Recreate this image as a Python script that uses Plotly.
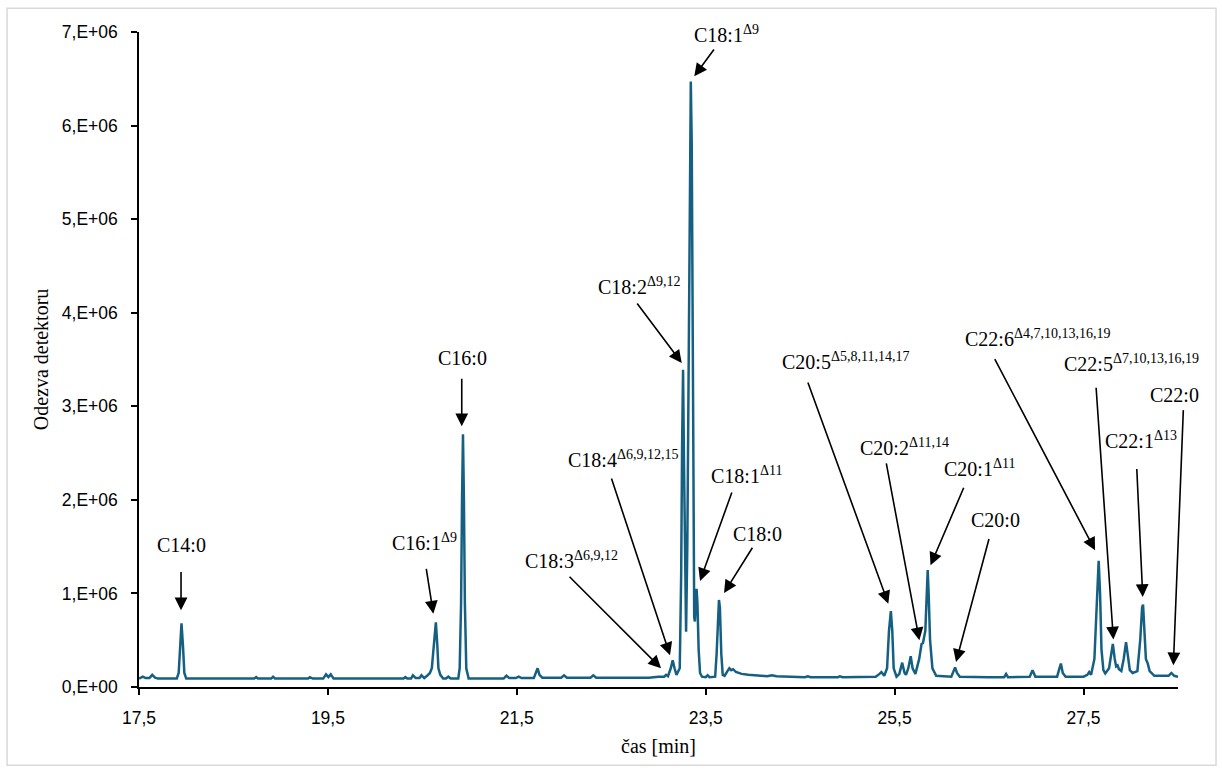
import numpy as np
import plotly.graph_objects as go

# ---------------- data ----------------
time_min = [
    17.50, 17.54, 17.57, 17.61, 17.64, 17.67, 17.70, 17.90, 17.92, 17.935, 17.95, 17.965, 17.98, 18.00,
    18.72, 18.74, 18.76, 18.90, 18.92, 18.94, 19.29, 19.31, 19.34,
    19.45, 19.48, 19.505, 19.53, 19.56, 20.30, 20.32, 20.34,
    20.38, 20.40, 20.43, 20.47, 20.49, 20.52, 20.55, 20.58, 20.60, 20.62, 20.643, 20.658, 20.67, 20.69, 20.72,
    20.75, 20.775, 20.80, 20.88, 20.895, 20.91, 20.92, 20.93, 20.94, 20.95, 20.965, 20.99,
    21.36, 21.39, 21.42, 21.49, 21.52, 21.55, 21.68, 21.705, 21.72, 21.74, 21.77, 21.85,
    21.97, 22.00, 22.03, 22.28, 22.31, 22.34, 22.90, 23.00, 23.06, 23.08, 23.10, 23.13, 23.15, 23.17, 23.19,
    23.225, 23.24, 23.25, 23.26, 23.27, 23.282, 23.292, 23.305, 23.32, 23.333, 23.342, 23.352, 23.365,
    23.378, 23.385, 23.395, 23.403, 23.412, 23.425, 23.44, 23.46, 23.50, 23.52, 23.54,
    23.60, 23.615, 23.63, 23.64, 23.65, 23.665, 23.68, 23.70, 23.73, 23.75, 23.77, 23.79, 23.82, 23.88,
    23.95, 24.05, 24.15, 24.20, 24.25, 24.40, 24.55, 24.58, 24.61, 24.90, 24.92, 24.95,
    25.30, 25.34, 25.36, 25.39, 25.42, 25.44, 25.46, 25.475, 25.49, 25.52, 25.55, 25.58, 25.605, 25.62,
    25.645, 25.67, 25.69, 25.72, 25.76, 25.785, 25.80, 25.825, 25.84, 25.85, 25.86, 25.875, 25.90, 25.94,
    26.10, 26.125, 26.14, 26.16, 26.19, 26.50, 26.66, 26.68, 26.70, 26.93, 26.96, 26.99,
    27.22, 27.245, 27.26, 27.28, 27.31, 27.50, 27.54, 27.56, 27.58, 27.615, 27.64, 27.66, 27.675, 27.69,
    27.71, 27.73, 27.77, 27.795, 27.81, 27.83, 27.845, 27.86, 27.875, 27.90, 27.925, 27.95, 27.97, 27.99,
    28.02, 28.07, 28.10, 28.12, 28.13, 28.145, 28.16, 28.18, 28.20, 28.25, 28.35, 28.40, 28.43, 28.46, 28.50,
]
# detector response in millions of counts
signal_millions = [
    0.09, 0.11, 0.095, 0.095, 0.13, 0.10, 0.09, 0.09, 0.15, 0.45, 0.68, 0.45, 0.15, 0.09,
    0.09, 0.105, 0.09, 0.09, 0.11, 0.09, 0.09, 0.105, 0.09,
    0.09, 0.135, 0.105, 0.135, 0.09, 0.09, 0.105, 0.09,
    0.09, 0.125, 0.095, 0.095, 0.125, 0.095, 0.12, 0.15, 0.20, 0.45, 0.69, 0.45, 0.20, 0.13, 0.09,
    0.09, 0.11, 0.09, 0.09, 0.20, 0.90, 2.00, 2.70, 2.00, 0.90, 0.20, 0.09,
    0.09, 0.12, 0.095, 0.095, 0.11, 0.095, 0.095, 0.15, 0.20, 0.13, 0.10, 0.10,
    0.10, 0.125, 0.10, 0.10, 0.125, 0.10, 0.10, 0.11, 0.11, 0.13, 0.115, 0.20, 0.285, 0.20, 0.13,
    0.20, 1.20, 2.60, 3.39, 2.40, 1.00, 0.59, 1.50, 4.00, 6.10, 6.47, 5.80, 2.50,
    0.75, 0.70, 0.95, 1.05, 0.90, 0.40, 0.15, 0.11, 0.105, 0.125, 0.105,
    0.11, 0.35, 0.85, 0.93, 0.85, 0.35, 0.13, 0.12, 0.17, 0.20, 0.18, 0.19, 0.16, 0.14,
    0.13, 0.12, 0.115, 0.125, 0.115, 0.11, 0.105, 0.115, 0.105, 0.105, 0.115, 0.105,
    0.11, 0.14, 0.16, 0.12, 0.20, 0.60, 0.81, 0.60, 0.20, 0.11, 0.14, 0.26, 0.15, 0.13,
    0.20, 0.33, 0.20, 0.14, 0.30, 0.46, 0.47, 0.60, 1.10, 1.25, 1.00, 0.50, 0.20, 0.12,
    0.11, 0.17, 0.21, 0.15, 0.11, 0.105, 0.105, 0.14, 0.105, 0.11, 0.18, 0.11,
    0.11, 0.20, 0.25, 0.15, 0.11, 0.11, 0.13, 0.16, 0.13, 0.30, 1.00, 1.35, 1.00, 0.40,
    0.18, 0.145, 0.20, 0.40, 0.46, 0.30, 0.22, 0.23, 0.19, 0.17, 0.30, 0.48, 0.32, 0.18,
    0.15, 0.17, 0.50, 0.85, 0.88, 0.60, 0.30, 0.25, 0.17, 0.12, 0.115, 0.12, 0.15, 0.12, 0.11,
]

x_tick_values = [17.5, 19.5, 21.5, 23.5, 25.5, 27.5]
x_tick_labels = ["17,5", "19,5", "21,5", "23,5", "25,5", "27,5"]
y_tick_values = [0, 1e6, 2e6, 3e6, 4e6, 5e6, 6e6, 7e6]
y_tick_labels = ["0,E+00", "1,E+06", "2,E+06", "3,E+06", "4,E+06", "5,E+06", "6,E+06", "7,E+06"]

peak_labels = [
    "C14:0", "C16:1<sup>Δ9</sup>", "C16:0", "C18:3<sup>Δ6,9,12</sup>", "C18:4<sup>Δ6,9,12,15</sup>",
    "C18:2<sup>Δ9,12</sup>", "C18:1<sup>Δ9</sup>", "C18:1<sup>Δ11</sup>", "C18:0",
    "C20:5<sup>Δ5,8,11,14,17</sup>", "C20:2<sup>Δ11,14</sup>", "C20:1<sup>Δ11</sup>", "C20:0",
    "C22:6<sup>Δ4,7,10,13,16,19</sup>", "C22:5<sup>Δ7,10,13,16,19</sup>", "C22:1<sup>Δ13</sup>", "C22:0",
]

# ---------------- annotation placement (data coords: x in min, y in millions) ----------------
label_xy = [
    (17.95, 1.52), (20.52, 1.55), (20.92, 3.52), (22.08, 1.36), (22.62, 2.44),
    (22.79, 4.29), (23.725, 6.98), (23.93, 2.27), (24.05, 1.64),
    (24.98, 3.48), (25.60, 2.57), (26.40, 2.34), (26.57, 1.78),
    (27.01, 3.73), (28.01, 3.46), (28.11, 2.64), (28.46, 3.12),
]
arrow_tail = [
    (17.945, 1.244), (20.539, 1.279), (20.917, 3.31), (22.042, 1.194), (22.497, 2.244),
    (22.762, 4.115), (23.599, 6.829), (23.782, 2.095), (24.004, 1.504),
    (24.576, 3.27), (25.409, 2.405), (26.238, 2.145), (26.503, 1.597),
    (26.552, 3.52), (27.632, 3.214), (28.063, 2.345), (28.557, 2.975),
]
arrow_tip = [
    (17.945, 0.82), (20.616, 0.784), (20.917, 2.786), (23.027, 0.20), (23.122, 0.339),
    (23.246, 3.463), (23.379, 6.527), (23.44, 1.133), (23.694, 1.005),
    (25.433, 0.891), (25.762, 0.499), (25.88, 1.301), (26.15, 0.267),
    (27.622, 1.461), (27.816, 0.507), (28.127, 0.962), (28.451, 0.232),
]

fig = go.Figure()
fig.add_trace(go.Scatter(
    x=time_min, y=np.array(signal_millions) * 1e6, mode="lines",
    line=dict(color="#156082", width=2.5), hoverinfo="skip", showlegend=False,
))

annotations = []
for txt, (lx, ly) in zip(peak_labels, label_xy):
    annotations.append(dict(
        x=lx, y=ly * 1e6, xref="x", yref="y", text=txt, showarrow=False,
        xanchor="center", yanchor="middle",
        font=dict(family="Liberation Serif", size=20, color="black"),
    ))
for (tx, ty), (hx, hy) in zip(arrow_tail, arrow_tip):
    annotations.append(dict(
        x=hx, y=hy * 1e6, xref="x", yref="y", ax=tx, ay=ty * 1e6, axref="x", ayref="y",
        text="", showarrow=True, arrowhead=2, arrowsize=1.6, arrowwidth=1.6, arrowcolor="black",
        standoff=0, startstandoff=0,
    ))

tick_font = dict(family="Liberation Sans", size=17.5, color="black")
title_font = dict(family="Liberation Serif", size=20, color="black")

fig.update_layout(
    width=1222, height=773,
    margin=dict(l=139, r=44, t=32, b=86, pad=0),
    paper_bgcolor="white", plot_bgcolor="white",
    annotations=annotations,
    shapes=[dict(type="rect", xref="paper", yref="paper",
                 x0=-0.127, x1=1.0366, y0=-0.1195, y1=1.0362,
                 line=dict(color="#d9d9d9", width=1.5), fillcolor="rgba(0,0,0,0)", layer="below")],
    xaxis=dict(
        range=[17.5, 28.5], tickvals=x_tick_values, ticktext=x_tick_labels,
        showgrid=False, zeroline=False, showline=True, linecolor="black", linewidth=1.5,
        ticks="outside", ticklen=6, tickwidth=1.5, tickcolor="black",
        tickfont=tick_font, ticklabelstandoff=8,
        title=dict(text="čas [min]", font=title_font, standoff=12),
    ),
    yaxis=dict(
        range=[0, 7e6], tickvals=y_tick_values, ticktext=y_tick_labels,
        showgrid=False, zeroline=False, showline=True, linecolor="black", linewidth=1.5,
        ticks="outside", ticklen=6, tickwidth=1.5, tickcolor="black",
        tickfont=tick_font, ticklabelstandoff=10,
        title=dict(text="Odezva detektoru", font=title_font, standoff=8),
    ),
)

fig.write_html("out.html")
